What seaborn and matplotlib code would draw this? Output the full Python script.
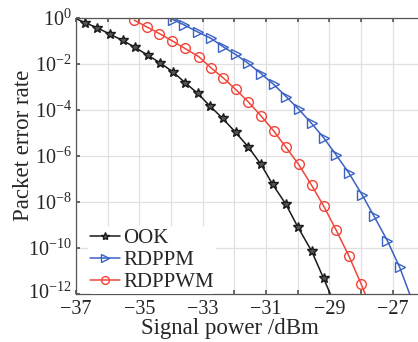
import matplotlib
matplotlib.use('Agg')
import matplotlib.pyplot as plt
import matplotlib.transforms as mtransforms
import numpy as np
import pandas as pd
import seaborn as sns

## Data (x in dBm, y as log10 of packet error rate)
ook_x = [-37.12, -36.72, -36.33, -35.93, -35.53, -35.14, -34.74, -34.35, -33.95, -33.56,
         -33.16, -32.78, -32.37, -31.96, -31.56, -31.16, -30.79, -30.37, -30.0, -29.56,
         -29.18, -28.78]
ook_logy = [0.05, -0.20, -0.42, -0.70, -0.97, -1.27, -1.61, -1.94, -2.33, -2.80,
            -3.27, -3.81, -4.36, -4.97, -5.60, -6.36, -7.23, -8.10, -9.07, -10.13,
            -11.32, -12.60]

rdppm_x = [-33.95, -33.58, -33.16, -32.74, -32.35, -31.96, -31.56, -31.16, -30.76, -30.36,
           -29.97, -29.56, -29.18, -28.78, -28.39, -27.97, -27.59, -27.17, -26.78, -26.38]
rdppm_logy = [-0.06, -0.30, -0.60, -0.88, -1.25, -1.58, -1.97, -2.41, -2.88, -3.42,
              -3.96, -4.58, -5.20, -5.96, -6.72, -7.67, -8.61, -9.67, -10.83, -12.30]

rdppwm_x = [-35.16, -34.77, -34.37, -33.96, -33.56, -33.12, -32.74, -32.35, -31.96, -31.56,
            -31.16, -30.76, -30.38, -29.97, -29.56, -29.18, -28.78, -28.38, -27.99, -27.60]
rdppwm_logy = [-0.09, -0.38, -0.67, -0.99, -1.32, -1.68, -2.16, -2.60, -3.10, -3.64,
               -4.25, -4.90, -5.60, -6.36, -7.27, -8.17, -9.23, -10.35, -11.58, -12.90]

x_ticks = [-37, -36, -35, -34, -33, -32, -31, -30, -29, -28, -27]
x_ticklabels = ['\u221237', '', '\u221235', '', '\u221233', '', '\u221231', '', '\u221229', '', '\u221227']
y_ticks = [1e0, 1e-2, 1e-4, 1e-6, 1e-8, 1e-10, 1e-12]

sns.set_theme(style='whitegrid')
plt.rcParams['font.family'] = ['Liberation Serif', 'DejaVu Serif']
plt.rcParams['mathtext.fontset'] = 'custom'
plt.rcParams['mathtext.rm'] = 'Liberation Serif'
plt.rcParams['mathtext.it'] = 'Liberation Serif:italic'
plt.rcParams['mathtext.bf'] = 'Liberation Serif:bold'

fig = plt.figure(figsize=(4.18, 3.42), dpi=100)
ax = fig.add_axes([0.182, 0.140, 0.818, 0.807])

## (name, x, logy, colour, marker, markevery)
series = [
    ('OOK', ook_x, ook_logy, '#1a1a1a', '*', slice(1, -1)),
    ('RDPPM', rdppm_x, rdppm_logy, '#3a62c4', '>', slice(0, -1)),
    ('RDPPWM', rdppwm_x, rdppwm_logy, '#f2453a', 'o', slice(0, -1)),
]

for name, xs, ly, col, mk, every in series:
    df = pd.DataFrame({'x': xs, 'y': 10.0 ** np.array(ly)})
    sns.lineplot(data=df, x='x', y='y', ax=ax, color=col, lw=1.1,
                 marker=mk, markevery=every, markersize=7 if mk != '*' else 7.5,
                 markerfacecolor='none' if mk != '*' else '#555555',
                 markeredgecolor=col, markeredgewidth=1.0, label=name,
                 estimator=None, sort=False)

ax.set_yscale('log')
ax.set_xlim(-37, -26.2)
ax.set_ylim(1e-12, 1e0)
ax.set_xticks(x_ticks)
ax.set_xticklabels(x_ticklabels)
ax.set_yticks(y_ticks)
ax.yaxis.set_minor_locator(matplotlib.ticker.NullLocator())

ax.grid(True, color='#e0e0e0', lw=0.9)
ax.tick_params(axis='both', direction='in', length=3, labelsize=14.5, color='#555555',
               top=True, bottom=True, left=True, pad=3)
ax.tick_params(axis='x', pad=4.5)
for side in ['left', 'bottom', 'top']:
    ax.spines[side].set_color('#555555')
    ax.spines[side].set_linewidth(0.9)
ax.spines['right'].set_visible(False)

## nudge the lowest y label up a little so it does not touch the -37 label
fig.canvas.draw()
bottom_lab = ax.get_yticklabels()[-1]
bottom_lab.set_transform(bottom_lab.get_transform() +
                         mtransforms.ScaledTranslation(0, 3 / 100, fig.dpi_scale_trans))

ax.set_xlabel('Signal power /dBm', fontsize=16.5)
ax.set_ylabel('Packet error rate', fontsize=16.5)
ax.xaxis.set_label_coords(0.45, -0.085)
ax.yaxis.set_label_coords(-0.123, 0.54)

leg = ax.legend(loc='lower left', frameon=True, fontsize=15, handlelength=1.45,
                handletextpad=0.15, labelspacing=0.12, borderpad=0.1,
                borderaxespad=0.0, bbox_to_anchor=(0.035, 0.0), markerscale=0.8)
leg.get_frame().set_edgecolor('none')
leg.get_frame().set_facecolor('white')
leg.get_frame().set_alpha(1.0)

fig.savefig('out.png', dpi=100)
